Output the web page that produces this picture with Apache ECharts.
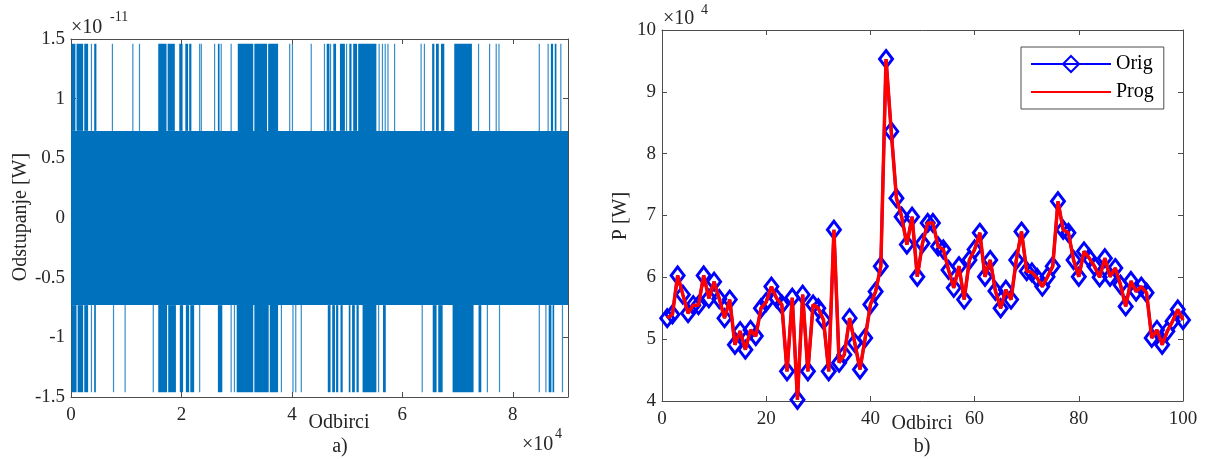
<!DOCTYPE html>
<html>
<head>
<meta charset="utf-8">
<script src="https://cdn.jsdelivr.net/npm/echarts@6/dist/echarts.min.js"></script>
<style>
html,body{margin:0;padding:0;background:#ffffff;}
#chart{width:1206px;height:459px;}
</style>
</head>
<body>
<div id="chart"></div>
<script>
// ---------- Panel a): deviation signal (x in units of 1e4 samples, y in units of 1e-11 W) ----------
const bandLevel = 0.73;      // level of the dense +/- band
const spikeLevel = 1.46;     // level of the occasional spikes
const signalEnd = 9;         // last sample (x 1e4)
const topSpikes = [
  [0.01,0.08],[0.10,0.22],[0.24,0.31],[0.37,0.39],[0.42,0.46],[0.75,0.76],[1.12,1.12],[1.24,1.24],
  [1.58,1.73],[1.75,1.88],[1.96,2.02],[2.07,2.12],[2.14,2.18],[2.33,2.33],[2.36,2.36],[2.60,2.62],
  [2.66,2.69],[2.72,2.74],[2.90,2.90],[3.02,3.30],[3.32,3.55],[3.57,3.75],[3.96,3.97],[4.01,4.02],
  [4.35,4.35],[4.59,4.61],[4.63,4.68],[4.70,4.72],[4.75,4.80],[4.87,4.96],[4.99,5.01],[5.04,5.08],
  [5.11,5.18],[5.20,5.53],[5.58,5.59],[5.64,5.65],[5.69,5.71],[5.74,5.76],[5.86,5.86],[6.34,6.34],
  [6.40,6.40],[6.54,6.58],[6.61,6.66],[6.70,6.76],[6.94,7.26],[7.38,7.39],[7.58,7.58],[7.70,7.71],
  [7.75,7.76],[8.48,8.48],[8.64,8.66],[8.69,8.73],[8.76,8.79],[8.87,8.87]
];
const bottomSpikes = [
  [0.01,0.10],[0.12,0.22],[0.24,0.31],[0.37,0.39],[0.42,0.45],[0.77,0.77],[0.98,0.98],[1.49,1.49],
  [1.58,1.74],[1.76,1.90],[1.97,2.03],[2.08,2.14],[2.16,2.23],[2.33,2.33],[2.66,2.74],[2.90,2.90],
  [2.96,2.96],[3.00,3.30],[3.32,3.58],[3.60,3.75],[3.81,3.81],[4.02,4.03],[4.07,4.08],[4.17,4.17],
  [4.65,4.70],[4.73,4.78],[4.80,4.84],[4.88,4.92],[5.03,5.06],[5.09,5.14],[5.17,5.21],[5.28,5.53],
  [5.57,5.57],[5.65,5.70],[6.36,6.36],[6.55,6.62],[6.65,6.73],[6.91,7.29],[7.38,7.43],[7.54,7.54],
  [7.76,7.76],[8.48,8.48],[8.60,8.62],[8.65,8.70],[8.72,8.75],[8.90,8.90]
];

// ---------- Panel b): power, Orig vs Prog (y in units of 1e4 W) ----------
const sampleIdx = [
  1,2,3,4,5,6,7,8,9,10,11,12,13,14,15,16,17,18,19,20,
  21,22,23,24,25,26,27,28,29,30,31,32,33,34,35,36,37,38,39,40,
  41,42,43,44,45,46,47,48,49,50,51,52,53,54,55,56,57,58,59,60,
  61,62,63,64,65,66,67,68,69,70,71,72,73,74,75,76,77,78,79,80,
  81,82,83,84,85,86,87,88,89,90,91,92,93,94,95,96,97,98,99,100
];
const origP = [
  5.34,5.40,6.03,5.72,5.42,5.55,5.55,6.03,5.66,5.93,5.65,5.34,5.64,4.91,5.13,4.83,5.15,5.05,5.50,5.60,
  5.85,5.66,5.56,4.48,5.67,4.02,5.72,4.48,5.56,5.50,5.31,4.48,6.77,4.62,4.75,5.34,4.94,4.51,5.02,5.56,
  5.77,6.18,9.53,8.36,7.28,6.98,6.53,6.98,6.01,6.55,6.88,6.88,6.50,6.45,6.12,5.83,6.18,5.64,6.28,6.45,
  6.72,6.01,6.28,5.78,5.50,5.80,5.64,6.28,6.74,6.10,6.08,5.99,5.85,6.01,6.18,7.23,6.77,6.72,6.28,6.01,
  6.42,6.31,6.18,6.00,6.31,6.01,6.15,5.88,5.53,5.94,5.77,5.85,5.75,5.02,5.15,4.91,5.13,5.29,5.48,5.31
];
const progP = [
  5.34,5.40,6.03,5.72,5.42,5.55,5.55,6.03,5.66,5.93,5.65,5.34,5.64,4.91,5.13,4.83,5.15,5.05,5.50,5.60,
  5.85,5.66,5.56,4.48,5.67,4.02,5.72,4.48,5.56,5.50,5.31,4.48,6.77,4.62,4.75,5.34,4.94,4.51,5.02,5.56,
  5.77,6.18,9.53,8.36,7.28,6.98,6.53,6.98,6.01,6.55,6.88,6.88,6.50,6.45,6.12,5.83,6.18,5.64,6.28,6.45,
  6.72,6.01,6.28,5.78,5.50,5.80,5.64,6.28,6.74,6.10,6.08,5.99,5.85,6.01,6.18,7.23,6.77,6.72,6.28,6.01,
  6.42,6.31,6.18,6.00,6.31,6.01,6.15,5.88,5.53,5.94,5.77,5.85,5.75,5.02,5.15,4.91,5.13,5.29,5.48,5.31
];

// ---------- build ----------
const FONT = "'Liberation Serif', 'DejaVu Serif', serif";
const TXT = '#262626';
const AX = '#4d4d4d';
const SIG = '#0072BD';

const rectData = [[0, signalEnd, -bandLevel, bandLevel]];
topSpikes.forEach(s => rectData.push([s[0], s[1], bandLevel, spikeLevel]));
bottomSpikes.forEach(s => rectData.push([s[0], s[1], -spikeLevel, -bandLevel]));

function renderRect(params, api) {
  const a = api.coord([api.value(0), api.value(3)]);
  const b = api.coord([api.value(1), api.value(2)]);
  let w = b[0] - a[0];
  let x = a[0];
  const thin = w < 1.2;
  if (thin) { x = a[0] - 0.6; w = 1.2; }
  return {
    type: 'rect',
    shape: { x: x, y: a[1], width: w, height: b[1] - a[1] },
    style: { fill: SIG, opacity: thin ? 0.8 : 1 }
  };
}

function axisCommon(extra) {
  return Object.assign({
    type: 'value',
    axisLine: { show: true, onZero: false, lineStyle: { color: AX, width: 1 } },
    axisTick: { show: true, inside: true, length: 5, lineStyle: { color: AX } },
    splitLine: { show: false },
    axisLabel: { color: TXT, fontFamily: FONT, fontSize: 19 }
  }, extra);
}

function txt(x, y, s, size, extra) {
  return Object.assign({
    type: 'text', x: x, y: y,
    style: { text: s, fontFamily: FONT, fontSize: size, fill: TXT, align: 'left', verticalAlign: 'middle' }
  }, extra || {});
}

const pairs = sampleIdx.map((x, i) => [x, origP[i]]);
const pairsProg = sampleIdx.map((x, i) => [x, progP[i]]);

const centered = { align: 'center', verticalAlign: 'middle' };
function ctxt(x, y, s, size, rot) {
  const t = txt(x, y, s, size);
  Object.assign(t.style, centered);
  if (rot) t.rotation = rot;
  return t;
}

const option = {
  animation: false,
  backgroundColor: '#ffffff',
  textStyle: { fontFamily: FONT },
  grid: [
    { left: 71, top: 39, width: 497, height: 358, show: false },
    { left: 662, top: 30, width: 521, height: 371, show: false }
  ],
  xAxis: [
    axisCommon({ gridIndex: 0, position: 'bottom', min: 0, max: signalEnd, interval: 2,
      axisLabel: { color: TXT, fontFamily: FONT, fontSize: 19, margin: 9,
        formatter: v => (Math.abs(v % 2) < 1e-9 ? String(v) : '') } }),
    axisCommon({ gridIndex: 0, position: 'top', min: 0, max: signalEnd, interval: 2, axisLabel: { show: false } }),
    axisCommon({ gridIndex: 1, position: 'bottom', min: 0, max: 100, interval: 20,
      axisLabel: { color: TXT, fontFamily: FONT, fontSize: 19, margin: 9 } }),
    axisCommon({ gridIndex: 1, position: 'top', min: 0, max: 100, interval: 20, axisLabel: { show: false } })
  ],
  yAxis: [
    axisCommon({ gridIndex: 0, position: 'left', min: -1.5, max: 1.5, interval: 0.5,
      axisLabel: { color: TXT, fontFamily: FONT, fontSize: 19, margin: 6 } }),
    axisCommon({ gridIndex: 0, position: 'right', min: -1.5, max: 1.5, interval: 0.5, axisLabel: { show: false } }),
    axisCommon({ gridIndex: 1, position: 'left', min: 4, max: 10, interval: 1,
      axisLabel: { color: TXT, fontFamily: FONT, fontSize: 19, margin: 6 } }),
    axisCommon({ gridIndex: 1, position: 'right', min: 4, max: 10, interval: 1, axisLabel: { show: false } })
  ],
  legend: {
    left: 1021, top: 47,
    orient: 'vertical',
    backgroundColor: '#ffffff',
    borderColor: AX, borderWidth: 1,
    padding: [7, 10, 7, 9],
    itemWidth: 80, itemHeight: 20, itemGap: 8,
    textStyle: { color: '#000000', fontFamily: FONT, fontSize: 20 },
    data: ['Orig', { name: 'Prog', itemStyle: { opacity: 0 } }]
  },
  series: [
    {
      type: 'custom',
      name: 'Odstupanje',
      xAxisIndex: 0, yAxisIndex: 0,
      renderItem: renderRect,
      encode: { x: [0, 1], y: [2, 3] },
      clip: true,
      data: rectData,
      silent: true
    },
    {
      type: 'line',
      name: 'Orig',
      xAxisIndex: 2, yAxisIndex: 2,
      data: pairs,
      z: 2,
      symbol: 'diamond',
      symbolSize: [13, 17],
      showAllSymbol: true,
      lineStyle: { color: '#0000ff', width: 3 },
      itemStyle: { color: 'rgba(0,0,0,0)', borderColor: '#0000ff', borderWidth: 3 },
      emphasis: { disabled: true }
    },
    {
      type: 'line',
      name: 'Prog',
      xAxisIndex: 2, yAxisIndex: 2,
      data: pairsProg,
      z: 3,
      symbol: 'none',
      lineStyle: { color: '#ff0000', width: 3.5 },
      itemStyle: { color: '#ff0000' },
      emphasis: { disabled: true }
    }
  ],
  graphic: [
    txt(71, 28, '×10', 20),
    txt(110, 17, '-11', 14),
    txt(663, 19, '×10', 20),
    txt(701, 10, '4', 14),
    txt(522, 445, '×10', 20),
    txt(555, 434, '4', 14),
    ctxt(339, 423, 'Odbirci', 20),
    ctxt(340, 447, 'a)', 20),
    ctxt(922, 424, 'Odbirci', 20),
    ctxt(922, 447, 'b)', 20),
    ctxt(21, 217, 'Odstupanje [W]', 20, Math.PI / 2),
    ctxt(621, 216, 'P [W]', 20, Math.PI / 2)
  ]
};

const chart = echarts.init(document.getElementById('chart'), null, { renderer: 'canvas' });
chart.setOption(option);
</script>
</body>
</html>
